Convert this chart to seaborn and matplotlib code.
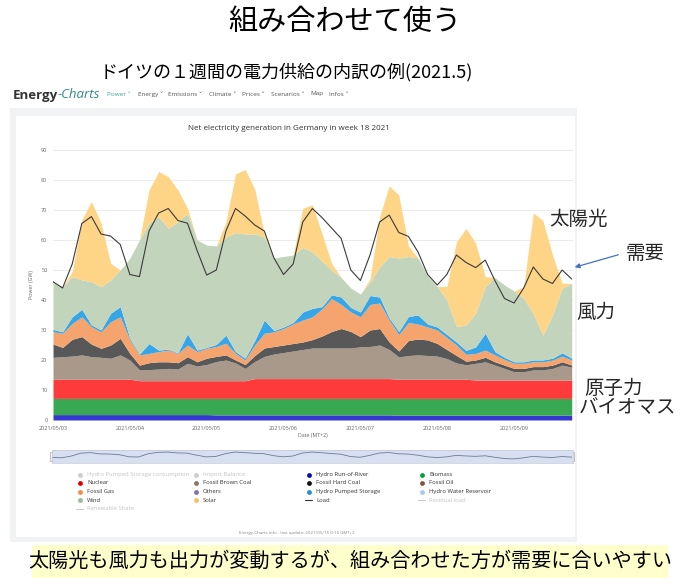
import matplotlib
matplotlib.use("Agg")
import matplotlib.pyplot as plt
from matplotlib.patches import Rectangle
import seaborn as sns

# hours since 2021/05/03 00:00, values read every 3 h (GW)
hours = list(range(0, 163, 3))

run_of_river = [1.8, 1.8, 1.8, 1.8, 1.8, 1.8, 1.8, 1.8,
                1.8, 1.8, 1.8, 1.8, 1.8, 1.8, 1.8, 1.8,
                1.8, 1.7, 1.7, 1.7, 1.7, 1.7, 1.7, 1.7,
                1.7, 1.7, 1.7, 1.7, 1.7, 1.7, 1.7, 1.7,
                1.7, 1.7, 1.7, 1.7, 1.6, 1.6, 1.6, 1.6,
                1.6, 1.6, 1.6, 1.6, 1.6, 1.6, 1.6, 1.6,
                1.6, 1.6, 1.6, 1.6, 1.6, 1.6, 1.6]
biomass = [5.4, 5.4, 5.4, 5.4, 5.4, 5.4, 5.4, 5.4,
           5.4, 5.4, 5.4, 5.4, 5.4, 5.4, 5.4, 5.4,
           5.4, 5.5, 5.5, 5.5, 5.5, 5.5, 5.5, 5.5,
           5.5, 5.5, 5.5, 5.5, 5.5, 5.5, 5.5, 5.5,
           5.5, 5.5, 5.5, 5.5, 5.6, 5.6, 5.6, 5.6,
           5.6, 5.6, 5.6, 5.6, 5.6, 5.6, 5.6, 5.6,
           5.6, 5.6, 5.6, 5.6, 5.6, 5.6, 5.6]
nuclear = [6.4, 6.4, 6.4, 6.4, 6.4, 6.4, 6.4, 6.4,
           6.4, 5.9, 5.9, 5.9, 5.9, 5.9, 5.9, 5.9,
           5.9, 5.9, 5.9, 5.9, 5.9, 6.6, 6.6, 6.6,
           6.6, 6.6, 6.6, 6.6, 6.6, 6.6, 6.6, 6.6,
           6.6, 6.6, 6.6, 6.6, 6.4, 6.4, 6.4, 6.4,
           6.4, 6.4, 6.4, 6.4, 6.1, 6.1, 6.1, 6.1,
           6.1, 6.1, 6.1, 6.1, 6.1, 6.1, 6.1]
brown_coal = [7.3, 7.5, 7.7, 8.1, 7.5, 7.3, 7.0, 8.1,
              6.4, 3.6, 3.7, 3.9, 4.1, 3.9, 5.8, 4.9,
              5.4, 6.4, 6.9, 5.9, 4.1, 5.7, 7.4, 8.2,
              8.7, 9.2, 9.7, 10.2, 10.2, 10.2, 10.2, 10.2,
              10.6, 10.7, 11.2, 9.7, 7.4, 7.9, 8.1, 7.9,
              7.7, 6.9, 5.4, 4.8, 5.6, 6.1, 5.0, 3.9,
              2.8, 2.8, 3.4, 3.4, 3.9, 5.0, 4.3]
hard_coal = [4.4, 3.1, 5.6, 6.1, 4.2, 3.0, 4.4, 5.5,
             2.2, 1.6, 2.3, 2.4, 2.2, 2.1, 2.2, 1.4,
             2.1, 1.7, 1.7, 1.0, 1.3, 2.0, 2.8, 2.5,
             2.5, 2.5, 2.5, 2.8, 4.0, 5.5, 6.5, 5.5,
             3.4, 5.5, 5.5, 2.5, 2.0, 5.0, 5.3, 5.2,
             4.2, 3.0, 2.5, 1.2, 1.1, 1.5, 1.1, 1.1,
             1.1, 1.1, 1.1, 1.1, 1.1, 1.1, 0.7]
gas = [4.1, 4.7, 5.3, 6.6, 5.8, 5.5, 7.8, 7.2,
       4.5, 3.4, 3.1, 3.4, 3.9, 3.1, 3.9, 3.4,
       3.3, 3.3, 3.9, 2.2, 1.5, 3.5, 4.9, 4.9,
       5.5, 6.5, 7.3, 7.6, 9.0, 11.0, 8.0, 6.5,
       6.6, 8.5, 8.5, 7.3, 5.5, 6.0, 5.0, 4.3,
       4.5, 4.0, 3.5, 2.3, 2.2, 2.4, 2.3, 1.9,
       1.7, 1.7, 1.6, 1.6, 1.7, 1.9, 1.7]
pumped_storage = [0.8, 0.5, 2.2, 2.5, 0.6, 0.6, 2.8, 3.4,
                  0.5, 0.3, 3.3, 0.5, 0.3, 0.2, 3.7, 0.5,
                  0.3, 0.7, 2.7, 0.6, 0.6, 1.5, 4.4, 0.4,
                  0.5, 0.5, 2.7, 2.8, 0.8, 1.2, 2.5, 1.5,
                  1.6, 3.0, 2.0, 0.7, 1.0, 2.0, 3.0, 1.0,
                  1.0, 1.0, 1.0, 1.3, 2.2, 5.6, 1.1, 0.7,
                  0.5, 0.5, 0.6, 0.6, 0.6, 1.1, 0.6]
wind = [15.6, 15.0, 13.4, 9.8, 14.4, 14.4, 11.1, 12.2,
        26.7, 38.0, 40.1, 44.5, 40.3, 43.7, 40.2, 36.7,
        34.1, 32.8, 32.7, 39.7, 41.4, 35.5, 27.7, 24.2,
        23.5, 22.5, 21.5, 18.8, 15.2, 8.3, 6.5, 6.5,
        6.0, 4.5, 10.0, 20.5, 24.5, 20.0, 19.0, 16.0,
        13.5, 11.5, 5.1, 8.5, 11.2, 15.6, 24.7, 24.1,
        23.6, 21.1, 15.5, 8.3, 14.4, 21.6, 24.9]
solar = [0, 0, 1.7, 20.0, 26.7, 21.2, 5.5, 0,
         0, 0, 11.1, 15.0, 17.2, 10.6, 1.7, 0,
         0, 0, 5.0, 19.5, 21.5, 15.0, 1.0, 0,
         0, 0, 13.1, 15.7, 9.2, 2.2, 0, 0,
         0, 1.0, 16.8, 23.5, 21.0, 3.5, 0, 0,
         0, 4.5, 28.3, 32.2, 23.3, 3.3, 0, 0,
         0, 3.9, 33.5, 38.2, 20.0, 1.6, 0]
load = [46.1, 44.0, 52.0, 65.5, 67.8, 62.0, 61.3, 58.5,
        48.5, 47.8, 63.0, 69.0, 70.5, 66.5, 65.6, 56.5,
        48.3, 50.0, 63.0, 70.5, 68.0, 65.0, 63.0, 54.0,
        48.5, 52.0, 66.0, 70.5, 67.5, 64.0, 60.5, 50.0,
        46.5, 55.0, 66.0, 68.3, 62.5, 61.2, 56.0, 48.5,
        45.0, 48.5, 55.0, 52.5, 50.8, 53.3, 46.5, 40.5,
        39.0, 44.0, 51.0, 47.0, 45.5, 50.0, 47.0]

day_ticks = [0, 24, 48, 72, 96, 120, 144]
day_labels = ["2021/05/03", "2021/05/04", "2021/05/05", "2021/05/06",
              "2021/05/07", "2021/05/08", "2021/05/09"]

area_colors = ["#3636d0", "#38a853", "#fe3a3a", "#a8998a", "#585858",
               "#f5a46e", "#36a6e8", "#c3d4bd", "#fed587"]

legend_rows = [
    [("Hydro Pumped Storage consumption", "#cccccc", "dot", False),
     ("Import Balance", "#cccccc", "dot", False),
     ("Hydro Run-of-River", "#0a0ab0", "dot", True),
     ("Biomass", "#00a040", "dot", True)],
    [("Nuclear", "#e00000", "dot", True),
     ("Fossil Brown Coal", "#8b7763", "dot", True),
     ("Fossil Hard Coal", "#111111", "dot", True),
     ("Fossil Oil", "#7a5a44", "dot", True)],
    [("Fossil Gas", "#f08c46", "dot", True),
     ("Others", "#8070b0", "dot", True),
     ("Hydro Pumped Storage", "#1e90d8", "dot", True),
     ("Hydro Water Reservoir", "#a8c8f0", "dot", True)],
    [("Wind", "#98b898", "dot", True),
     ("Solar", "#f5c060", "dot", True),
     ("Load", "#333333", "line", True),
     ("Residual load", "#cccccc", "line", False)],
    [("Renewable Share", "#cccccc", "line", False)],
]

nav_items = [("Power", 107), ("Energy", 138), ("Emissions", 168), ("Climate", 209),
             ("Prices", 242), ("Scenarios", 271), ("Map", 310), ("Infos", 329)]

sns.set_theme(style="white")
plt.rcParams['font.family'] = ['Open Sans', 'DejaVu Sans']
jp = ['Noto Sans CJK JP', 'DejaVu Sans']

fig = plt.figure(figsize=(6.8, 5.86), dpi=100)

# page layer in pixel coordinates
bg = fig.add_axes([0, 0, 1, 1], zorder=0)
bg.set_xlim(0, 680)
bg.set_ylim(586, 0)
bg.axis('off')
bg.add_patch(Rectangle((10, 108), 567, 434, color='#f1f2f4', lw=0))
bg.add_patch(Rectangle((16, 116), 559, 421, color='white', lw=0))

bg.text(345, 22, "組み合わせて使う", family=jp, fontsize=21, ha='center', va='center', color='black')
bg.text(286, 72, "ドイツの１週間の電力供給の内訳の例(2021.5)", family=jp, fontsize=13,
        ha='center', va='center', color='black')

logo = bg.text(13, 95, "Energy", fontsize=9.5, fontweight='bold', color='#333333', va='center')
bg.annotate("-Charts", xy=(1, 0), xycoords=logo, fontsize=9.5, style='italic',
            color='#2e8b84', va='bottom')
for name, x in nav_items:
    arrow = "" if name == "Map" else " ˅"
    bg.text(x, 94, name + arrow, fontsize=4.6, va='center',
            color='#3aa38f' if name == "Power" else '#555555')

bg.text(289, 129, "Net electricity generation in Germany in week 18 2021",
        fontsize=5.8, ha='center', va='center', color='#333333')
bg.text(32, 285, "Power (GW)", fontsize=3.8, rotation=90, ha='center', va='center', color='#666666')
bg.text(313, 436, "Date (MT+2)", fontsize=3.8, ha='center', va='center', color='#666666')

# legend
col_x = [80, 196, 309, 422]
row_y = [474.5, 483, 491.5, 500, 508.5]
for r, row in enumerate(legend_rows):
    for c, (name, col, kind, on) in enumerate(row):
        x, y = col_x[c], row_y[r]
        if kind == "dot":
            bg.scatter([x], [y], s=12, color=col, lw=0)
        else:
            bg.plot([x - 4, x + 3], [y, y], color=col, lw=0.8)
        bg.text(x + 7, y, name, fontsize=4.2, va='center',
                color='#333333' if on else '#c4c4c4')

bg.text(297, 533, "Energy-Charts.info - last update: 2021/05/16 0:16 GMT+2",
        fontsize=3.2, ha='center', va='center', color='#888888')

# bottom banner
bg.add_patch(Rectangle((32, 545), 636, 33, color='#ffffcc', lw=0))
bg.text(350, 561, "太陽光も風力も出力が変動するが、組み合わせた方が需要に合いやすい",
        family=jp, fontsize=14.5, ha='center', va='center', color='black')

# main chart
ax = fig.add_axes([53 / 680, 1 - 420 / 586, 520 / 680, 270 / 586], zorder=2)
ax.set_facecolor('none')
ax.stackplot(hours, run_of_river, biomass, nuclear, brown_coal, hard_coal, gas,
             pumped_storage, wind, solar, colors=area_colors, lw=0)
sns.lineplot(x=hours, y=load, ax=ax, color='#3a3a3a', lw=0.8)
ax.set_xlim(0, 162.4)
ax.set_ylim(0, 90)
ax.set_yticks(range(0, 100, 10))
ax.set_xticks(day_ticks)
ax.set_xticklabels(day_labels)
ax.grid(axis='y', color='#e8e8e8', lw=0.6)
ax.set_axisbelow(True)
ax.tick_params(length=0, labelsize=4, colors='#666666', pad=4)
for s in ax.spines.values():
    s.set_visible(False)
ax.set_xlabel("")
ax.set_ylabel("")

# navigator bar
nav = fig.add_axes([52 / 680, 1 - 463 / 586, 521 / 680, 13 / 586], zorder=2)
nav.set_facecolor('#d8dff0')
sns.lineplot(x=hours, y=load, ax=nav, color='#6d7a96', lw=0.6)
nav.set_xlim(0, 162.4)
nav.set_ylim(20, 80)
nav.set_xticks([])
nav.set_yticks([])
nav.set_xlabel("")
nav.set_ylabel("")
for s in nav.spines.values():
    s.set_color('#c3c9db')
    s.set_linewidth(0.5)
for hx in (50, 571):
    bg.add_patch(Rectangle((hx, 452), 3, 9, facecolor='#f2f2f2', edgecolor='#999999', lw=0.4, zorder=5))

# annotations
bg2 = fig.add_axes([0, 0, 1, 1], zorder=3)
bg2.set_xlim(0, 680)
bg2.set_ylim(586, 0)
bg2.axis('off')
bg2.text(579, 219, "太陽光", family=jp, fontsize=14, ha='center', va='center')
bg2.text(645, 253, "需要", family=jp, fontsize=14, ha='center', va='center')
bg2.annotate("", xy=(572, 268), xytext=(621, 254),
             arrowprops=dict(arrowstyle='-|>', color='#4472c4', lw=0.9, mutation_scale=7))
bg2.text(596, 312, "風力", family=jp, fontsize=14, ha='center', va='center')
bg2.text(614, 388, "原子力", family=jp, fontsize=14, ha='center', va='center')
bg2.text(627, 408, "バイオマス", family=jp, fontsize=14, ha='center', va='center')

fig.savefig("out.png", dpi=100)
